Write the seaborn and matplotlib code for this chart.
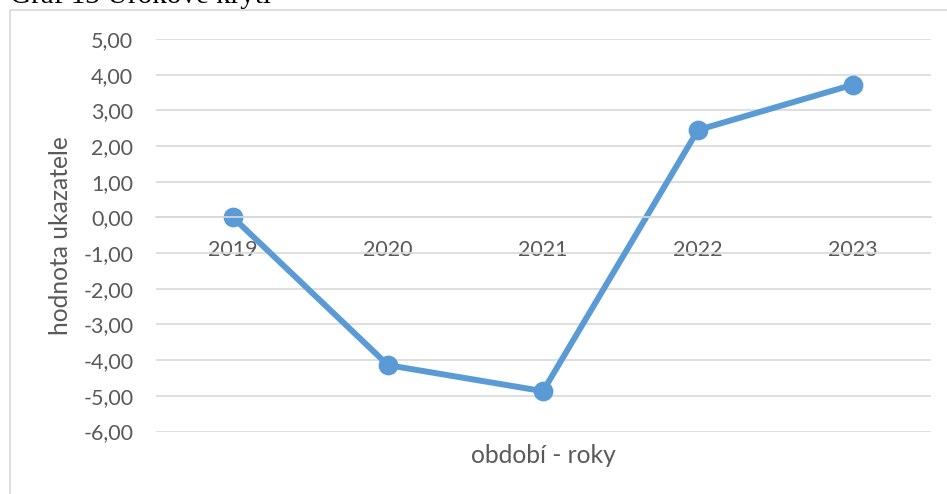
import matplotlib
matplotlib.use("Agg")
import matplotlib.pyplot as plt
from matplotlib.patches import Rectangle
import seaborn as sns
import pandas as pd

# ---- data ----
years = ["2019", "2020", "2021", "2022", "2023"]
values = [0.00, -4.14, -4.87, 2.45, 3.72]
y_ticks = [5, 4, 3, 2, 1, 0, -1, -2, -3, -4, -5, -6]
y_tick_labels = ["5,00", "4,00", "3,00", "2,00", "1,00", "0,00",
                 "-1,00", "-2,00", "-3,00", "-4,00", "-5,00", "-6,00"]
title = "Graf 13 Úrokové krytí"
x_title = "období - roky"
y_title = "hodnota ukazatele"

df = pd.DataFrame({"rok": years, "hodnota": values})

sns.set_style("white")
plt.rcParams["font.family"] = ["Lato", "DejaVu Sans"]

W, H = 947, 494
fig = plt.figure(figsize=(W / 100, H / 100), dpi=100)

# outer chart border
fig.patches.append(Rectangle((10 / W, -0.1), 1.2, 1 - 10 / H + 0.1,
                             transform=fig.transFigure, fill=False,
                             edgecolor="#D9D9D9", linewidth=1.2))

# caption (cut at the top, as in the reference)
fig.text(10 / W, 1 - 3 / H, title, family=["Liberation Serif"], fontsize=21,
         ha="left", va="baseline", color="black")

left, right, top, bottom = 155.5, 930.5, 39, 431.5
ax = fig.add_axes([left / W, 1 - bottom / H, (right - left) / W, (bottom - top) / H])

sns.pointplot(data=df, x="rok", y="hodnota", ax=ax, color="#5B9BD5",
              markers="o", linestyles="-", errorbar=None,
              markersize=11, linewidth=4.3)

ax.set_ylim(-6, 5)
ax.set_xlim(-0.5, len(years) - 0.5)
ax.set_yticks(y_ticks)
ax.set_yticklabels(y_tick_labels)
ax.yaxis.grid(True, color="#D9D9D9", linewidth=1.2)
ax.xaxis.grid(False)
ax.set_axisbelow(True)

for s in ["left", "right", "top"]:
    ax.spines[s].set_visible(False)
ax.spines["bottom"].set_position(("data", 0))
ax.spines["bottom"].set_color("#D9D9D9")
ax.spines["bottom"].set_linewidth(1.2)

ax.tick_params(axis="y", length=0, pad=16, labelsize=15.5, labelcolor="#595959")
ax.tick_params(axis="x", length=0, pad=16, labelsize=15.5, labelcolor="#595959")

ax.set_xlabel(x_title, fontsize=17.7, color="#595959", va="center")
ax.xaxis.set_label_coords(0.5, -(455 - bottom) / (bottom - top))
ax.set_ylabel(y_title, fontsize=17.7, color="#595959", va="center")
ax.yaxis.set_label_coords((60 - left) / (right - left), 0.5)

fig.savefig("out.png", dpi=100)
